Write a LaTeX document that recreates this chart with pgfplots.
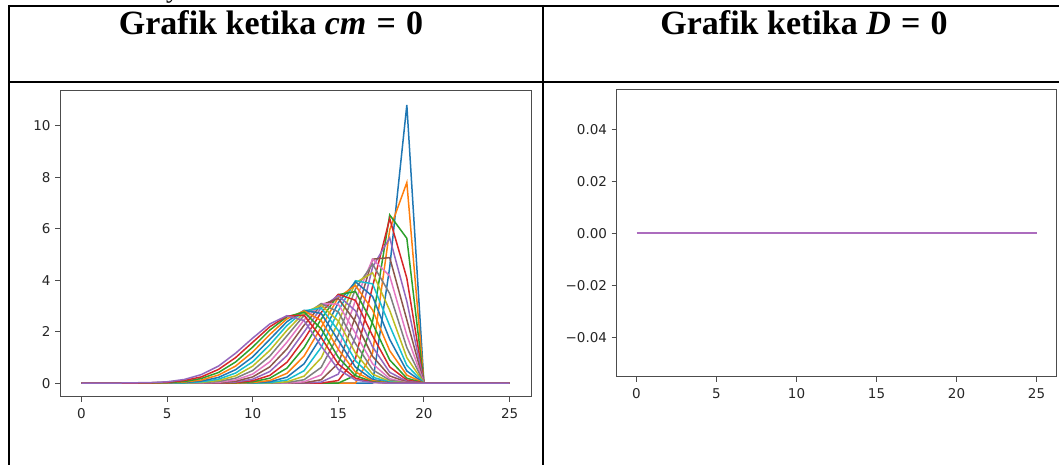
\documentclass[border=0pt]{standalone}
\usepackage{fontspec}
\setmainfont{Liberation Serif}
\newfontfamily\dejavu{DejaVu Sans}
\usepackage{pgfplots}
\pgfplotsset{compat=1.18}
\definecolor{c0}{HTML}{1F77B4}
\definecolor{c1}{HTML}{FF7F0E}
\definecolor{c2}{HTML}{2CA02C}
\definecolor{c3}{HTML}{D62728}
\definecolor{c4}{HTML}{9467BD}
\definecolor{c5}{HTML}{8C564B}
\definecolor{c6}{HTML}{E377C2}
\definecolor{c7}{HTML}{7F7F7F}
\definecolor{c8}{HTML}{BCBD22}
\definecolor{c9}{HTML}{17BECF}
\pgfplotscreateplotcyclelist{tab}{%
{c0,line width=1.5pt},{c1,line width=1.5pt},{c2,line width=1.5pt},{c3,line width=1.5pt},{c4,line width=1.5pt},%
{c5,line width=1.5pt},{c6,line width=1.5pt},{c7,line width=1.5pt},{c8,line width=1.5pt},{c9,line width=1.5pt}}
\pgfplotsset{mpl/.style={
  scale only axis, anchor=south west,
  axis line style={draw=black!70, line width=1pt},
  tick align=outside, major tick length=5pt,
  every tick/.style={draw=black!70, line width=1pt},
  xtick pos=bottom, ytick pos=left,
  xtick={0,5,10,15,20,25},
  ticklabel style={font=\dejavu\fontsize{13.5}{13.5}\selectfont, text=black!85},
  xticklabel style={yshift=-3pt},
  yticklabel style={xshift=-1pt},
  /pgf/number format/assume math mode=true,
  scaled y ticks=false,
  xmin=-1.25, xmax=26.25,
  axis on top,
  cycle list name=tab,
}}
\begin{document}
\begin{tikzpicture}[x=1pt,y=1pt]
\useasboundingbox (0,0) rectangle (1059,465);
% table rules
\draw[line width=2pt] (8,459) -- (1059,459);
\draw[line width=2pt] (9,460) -- (9,0);
\draw[line width=2pt] (542.6,460) -- (542.6,0);
\draw[line width=2pt] (9,383.2) -- (1059,383.2);
% cut text of the previous line
\node[anchor=base west, inner sep=0, font=\fontsize{27}{27}\selectfont] at (166,467) {y};
% titles
\node[anchor=base, inner sep=0, font=\fontsize{34}{34}\selectfont\bfseries] at (271,430) {Grafik ketika \textit{cm}\hspace{0.3em}=\hspace{0.3em}0};
\node[anchor=base, inner sep=0, font=\fontsize{34}{34}\selectfont\bfseries] at (804,430) {Grafik ketika \textit{D}\hspace{0.3em}=\hspace{0.3em}0};

\begin{axis}[mpl, at={(60pt,68pt)}, width=471pt, height=306pt,
  ymin=-0.541, ymax=11.361, ytick={0,2,4,6,8,10}]
\addplot coordinates {(0,0)(17,0)(18,4.5)(19,10.82)(20,0)(25,0)};
\addplot coordinates {(0,0)(16,0)(17,1.17)(18,5.96)(19,7.8)(20,0)(25,0)};
\addplot coordinates {(0,0)(15,0)(16,0.30)(17,2.40)(18,6.54)(19,5.63)(20,0)(25,0)};
\addplot coordinates {(0,0)(14,0)(15,0.10)(16,0.95)(17,3.76)(18,6.40)(19,4.08)(20,0)(25,0)};
\addplot coordinates {(0,0)(13,0)(14,0.04)(15,0.35)(16,1.78)(17,4.51)(18,5.65)(19,3.18)(20,0)(25,0)};
\addplot coordinates {(0,0)(12,0)(13,0.01)(14,0.13)(15,0.77)(16,2.58)(17,4.82)(18,4.88)(19,2.46)(20,0)(25,0)};
\addplot coordinates {(0,0)(12,0)(13,0.05)(14,0.32)(15,1.31)(16,3.22)(17,4.82)(18,4.17)(19,1.86)(20,0)(25,0)};
\addplot coordinates {(0,0)(11,0)(12,0.02)(13,0.13)(14,0.61)(15,1.87)(16,3.66)(17,4.63)(18,3.48)(19,1.38)(20,0)(25,0)};
\addplot coordinates {(0,0)(10,0)(11,0.01)(12,0.05)(13,0.27)(14,0.98)(15,2.38)(16,3.90)(17,4.29)(18,2.83)(19,0.99)(20,0)(25,0)};
\addplot coordinates {(0,0)(10,0)(11,0.02)(12,0.12)(13,0.48)(14,1.39)(15,2.81)(16,3.98)(17,3.86)(18,2.23)(19,0.69)(20,0)(25,0)};
\addplot coordinates {(0,0)(9,0)(10,0.01)(11,0.05)(12,0.23)(13,0.75)(14,1.80)(15,3.13)(16,3.94)(17,3.37)(18,1.70)(19,0.47)(20,0)(25,0)};
\addplot coordinates {(0,0)(9,0)(10,0.02)(11,0.10)(12,0.38)(13,1.05)(14,2.17)(15,3.33)(16,3.80)(17,2.84)(18,1.26)(19,0.31)(20,0)(25,0)};
\addplot coordinates {(0,0)(8,0)(9,0.01)(10,0.05)(11,0.19)(12,0.58)(13,1.38)(14,2.49)(15,3.44)(16,3.56)(17,2.32)(18,0.90)(19,0.19)(20,0)(25,0)};
\addplot coordinates {(0,0)(8,0)(9,0.02)(10,0.09)(11,0.30)(12,0.81)(13,1.70)(14,2.75)(15,3.45)(16,3.22)(17,1.84)(18,0.63)(19,0.12)(20,0)(25,0)};
\addplot coordinates {(0,0)(7,0)(8,0.01)(9,0.04)(10,0.15)(11,0.45)(12,1.07)(13,1.99)(14,2.93)(15,3.40)(16,2.81)(17,1.41)(18,0.42)(19,0.07)(20,0)(25,0)};
\addplot coordinates {(0,0)(7,0)(8,0.02)(9,0.07)(10,0.24)(11,0.63)(12,1.33)(13,2.25)(14,3.04)(15,3.29)(16,2.38)(17,1.04)(18,0.28)(19,0.04)(20,0)(25,0)};
\addplot coordinates {(0,0)(6,0)(7,0.01)(8,0.03)(9,0.12)(10,0.35)(11,0.83)(12,1.59)(13,2.46)(14,3.09)(15,3.07)(16,1.94)(17,0.75)(18,0.17)(19,0.02)(20,0)(25,0)};
\addplot coordinates {(0,0)(6,0)(7,0.02)(8,0.06)(9,0.19)(10,0.49)(11,1.05)(12,1.84)(13,2.63)(14,3.09)(15,2.77)(16,1.54)(17,0.52)(18,0.11)(19,0.01)(20,0)(25,0)};
\addplot coordinates {(0,0)(5,0)(6,0.01)(7,0.03)(8,0.10)(9,0.28)(10,0.66)(11,1.27)(12,2.05)(13,2.74)(14,3.03)(15,2.41)(16,1.17)(17,0.35)(18,0.06)(19,0.01)(20,0)(25,0)};
\addplot coordinates {(0,0)(5,0)(6,0.01)(7,0.05)(8,0.15)(9,0.39)(10,0.83)(11,1.49)(12,2.24)(13,2.81)(14,2.92)(15,2.04)(16,0.87)(17,0.23)(18,0.04)(19,0)(25,0)};
\addplot coordinates {(0,0)(4,0)(5,0.01)(6,0.02)(7,0.08)(8,0.22)(9,0.52)(10,1.02)(11,1.70)(12,2.39)(13,2.83)(14,2.71)(15,1.66)(16,0.62)(17,0.14)(18,0.02)(19,0)(25,0)};
\addplot coordinates {(0,0)(4,0)(5,0.01)(6,0.04)(7,0.12)(8,0.31)(9,0.66)(10,1.21)(11,1.89)(12,2.50)(13,2.81)(14,2.43)(15,1.31)(16,0.43)(17,0.09)(18,0.01)(19,0)(25,0)};
\addplot coordinates {(0,0)(3,0)(4,0.01)(5,0.02)(6,0.06)(7,0.18)(8,0.41)(9,0.82)(10,1.40)(11,2.06)(12,2.58)(13,2.76)(14,2.11)(15,1.00)(16,0.29)(17,0.05)(18,0.01)(19,0)(25,0)};
\addplot coordinates {(0,0)(3,0)(4,0.01)(5,0.03)(6,0.10)(7,0.24)(8,0.53)(9,0.99)(10,1.59)(11,2.19)(12,2.61)(13,2.64)(14,1.77)(15,0.74)(16,0.19)(17,0.03)(18,0)(25,0)};
\addplot coordinates {(0,0)(2,0)(3,0.01)(4,0.02)(5,0.05)(6,0.14)(7,0.33)(8,0.66)(9,1.16)(10,1.75)(11,2.30)(12,2.62)(13,2.43)(14,1.44)(15,0.53)(16,0.12)(17,0.02)(18,0)(25,0)};
\end{axis}

\begin{axis}[mpl, at={(616.5pt,88.3pt)}, width=440pt, height=286.7pt,
  ymin=-0.055, ymax=0.055, ytick={-0.04,-0.02,0,0.02,0.04},
  yticklabels={−0.04,−0.02,0.00,0.02,0.04}]
\addplot[c4!70!c6, line width=2.2pt] coordinates {(0,0)(5,0)(10,0)(15,0)(20,0)(25,0)};
\end{axis}
\end{tikzpicture}
\end{document}
